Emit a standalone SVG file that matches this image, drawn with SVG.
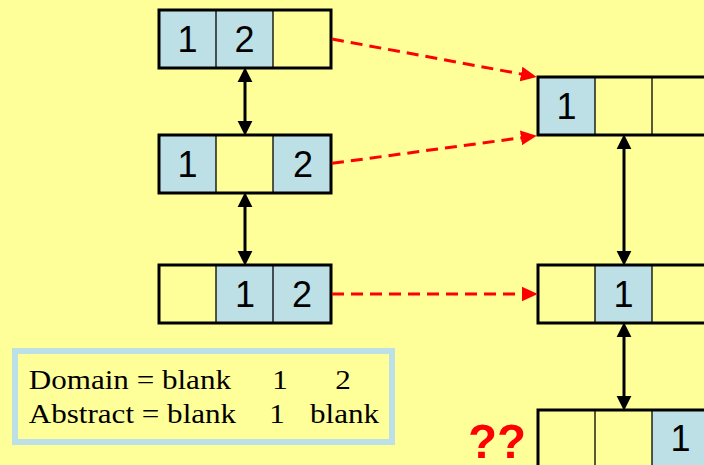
<svg xmlns="http://www.w3.org/2000/svg" width="704" height="465" viewBox="0 0 704 465">
  <style>
    .bg { fill: #ffff99; }
    .cell-on { fill: #bde0e6; }
    .cell-off { fill: #ffff99; }
    .div { stroke: #000; stroke-width: 1.3; }
    .frame { fill: none; stroke: #000; stroke-width: 3; }
    .digit { font-family: "Liberation Sans", Arial, sans-serif; font-size: 36px; fill: #000; text-anchor: middle; }
    .link { stroke: #000; stroke-width: 3; fill: none; marker-start: url(#blackHead); marker-end: url(#blackHead); }
    .map { stroke: #ff0000; stroke-width: 3; fill: none; stroke-dasharray: 12 7; marker-end: url(#redHead); }
    .legend-frame { fill: #ffff99; stroke: #bde0e6; stroke-width: 6; }
    .legend-text { font-family: "Liberation Serif", "Times New Roman", serif; font-size: 28px; fill: #000; }
    .qq { font-family: "Liberation Sans", Arial, sans-serif; font-weight: bold; font-size: 49px; fill: #ff0000; }
  </style>
  <defs>
    <marker id="blackHead" markerUnits="userSpaceOnUse" markerWidth="16" markerHeight="16" viewBox="0 0 15 14" refX="2" refY="7" orient="auto-start-reverse">
      <path d="M0,0 L14,7 L0,14 z" fill="#000"/>
    </marker>
    <marker id="redHead" markerUnits="userSpaceOnUse" markerWidth="17" markerHeight="16" viewBox="0 0 16 14" refX="3" refY="7" orient="auto">
      <path d="M0,0 L15,7 L0,14 z" fill="#ff0000" stroke="none"/>
    </marker>
  </defs>

  <rect class="bg" x="0" y="0" width="704" height="465"/>

  <!-- left column: three-slot arrays -->
  <g id="left-top">
    <rect class="cell-on" x="159" y="10" width="57" height="58"/>
    <rect class="cell-on" x="216" y="10" width="57" height="58"/>
    <rect class="cell-off" x="273" y="10" width="58" height="58"/>
    <line class="div" x1="216" y1="10" x2="216" y2="68"/>
    <line class="div" x1="273" y1="10" x2="273" y2="68"/>
    <rect class="frame" x="159" y="10" width="172" height="58"/>
    <text class="digit" x="187.5" y="52">1</text>
    <text class="digit" x="244.5" y="52">2</text>
  </g>

  <g id="left-middle">
    <rect class="cell-on" x="159" y="135" width="57" height="58"/>
    <rect class="cell-off" x="216" y="135" width="57" height="58"/>
    <rect class="cell-on" x="273" y="135" width="58" height="58"/>
    <line class="div" x1="216" y1="135" x2="216" y2="193"/>
    <line class="div" x1="273" y1="135" x2="273" y2="193"/>
    <rect class="frame" x="159" y="135" width="172" height="58"/>
    <text class="digit" x="187.5" y="176.5">1</text>
    <text class="digit" x="303" y="176.5">2</text>
  </g>

  <g id="left-bottom">
    <rect class="cell-off" x="159" y="265" width="57" height="58"/>
    <rect class="cell-on" x="216" y="265" width="57" height="58"/>
    <rect class="cell-on" x="273" y="265" width="58" height="58"/>
    <line class="div" x1="216" y1="265" x2="216" y2="323"/>
    <line class="div" x1="273" y1="265" x2="273" y2="323"/>
    <rect class="frame" x="159" y="265" width="172" height="58"/>
    <text class="digit" x="245" y="307">1</text>
    <text class="digit" x="302" y="307">2</text>
  </g>

  <!-- right column: abstract arrays (run off the right edge) -->
  <g id="right-top">
    <rect class="cell-on" x="538" y="77" width="57" height="58"/>
    <rect class="cell-off" x="595" y="77" width="57" height="58"/>
    <rect class="cell-off" x="652" y="77" width="57" height="58"/>
    <line class="div" x1="595" y1="77" x2="595" y2="135"/>
    <line class="div" x1="652" y1="77" x2="652" y2="135"/>
    <rect class="frame" x="538" y="77" width="171" height="58"/>
    <text class="digit" x="566.5" y="118.5">1</text>
  </g>

  <g id="right-middle">
    <rect class="cell-off" x="538" y="265" width="57" height="58"/>
    <rect class="cell-on" x="595" y="265" width="57" height="58"/>
    <rect class="cell-off" x="652" y="265" width="57" height="58"/>
    <line class="div" x1="595" y1="265" x2="595" y2="323"/>
    <line class="div" x1="652" y1="265" x2="652" y2="323"/>
    <rect class="frame" x="538" y="265" width="171" height="58"/>
    <text class="digit" x="623.5" y="307">1</text>
  </g>

  <g id="right-bottom">
    <rect class="cell-off" x="538" y="410" width="57" height="58"/>
    <rect class="cell-off" x="595" y="410" width="57" height="58"/>
    <rect class="cell-on" x="652" y="410" width="57" height="58"/>
    <line class="div" x1="595" y1="410" x2="595" y2="468"/>
    <line class="div" x1="652" y1="410" x2="652" y2="468"/>
    <rect class="frame" x="538" y="410" width="171" height="58"/>
    <text class="digit" x="680.5" y="451">1</text>
  </g>

  <!-- connectors -->
  <g id="connectors">
    <line class="link" x1="245" y1="80" x2="245" y2="123"/>
    <line class="link" x1="245" y1="205" x2="245" y2="253"/>
    <line class="link" x1="624" y1="147" x2="624" y2="253"/>
    <line class="link" x1="624" y1="335" x2="624" y2="398"/>
    <line class="map" x1="332" y1="39" x2="524.2" y2="74.6"/>
    <line class="map" x1="332" y1="163.3" x2="524.1" y2="137.4"/>
    <line class="map" x1="332" y1="294" x2="525" y2="294"/>
  </g>

  <!-- legend -->
  <g id="legend">
    <rect class="legend-frame" x="15" y="351" width="377" height="91"/>
    <g transform="scale(1.11,1)">
      <text class="legend-text" x="25.9" y="389">Domain = blank</text>
      <text class="legend-text" x="252.3" y="389" text-anchor="middle">1</text>
      <text class="legend-text" x="309" y="389" text-anchor="middle">2</text>
      <text class="legend-text" x="25.9" y="423">Abstract = blank</text>
      <text class="legend-text" x="249.5" y="423" text-anchor="middle">1</text>
      <text class="legend-text" x="279.3" y="423">blank</text>
    </g>
  </g>

  <g id="question">
    <text class="qq" x="468" y="458" textLength="58" lengthAdjust="spacingAndGlyphs">??</text>
  </g>
</svg>
